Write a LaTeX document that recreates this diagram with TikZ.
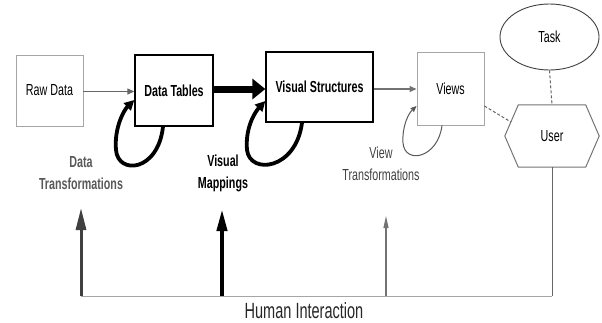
\documentclass[tikz,border=0pt]{standalone}
\usepackage{fontspec}
\setmainfont{Liberation Sans}[FakeStretch=0.67]
\newfontfamily\hifont{Liberation Sans}[FakeStretch=0.66]
\usetikzlibrary{arrows.meta,calc,shapes.geometric}

\begin{document}
\begin{tikzpicture}[x=1pt,y=-1pt,
  txt/.style={font=\fontsize{16}{18}\selectfont},
  lbox/.style={txt, draw=black!35, line width=0.9pt, inner sep=0pt},
  bbox/.style={draw=black, line width=1.3pt, inner sep=0pt, font=\fontsize{16}{18}\selectfont\bfseries},
  lab/.style={align=center, inner sep=0pt, font=\fontsize{16}{22}\selectfont},
  thinarrow/.style={draw=black!60, line width=1.1pt, -{Triangle[length=7pt,width=6pt]}},
  thickloop/.style={draw=black, line width=3.8pt, -{Triangle[length=10pt,width=10pt]}},
  thinloop/.style={draw=black!65, line width=1pt, -{Triangle[length=6pt,width=5pt]}},
  dashlink/.style={draw=black!60, line width=1pt, dash pattern=on 3pt off 2pt}
]
\useasboundingbox (0,0) rectangle (602,322);

% the four stages of the pipeline
\node[lbox, minimum width=67pt, minimum height=71pt] (raw) at (49.5,90.5) {Raw Data};
\node[bbox, minimum width=78pt, minimum height=71pt] (dt) at (174,90.5) {Data Tables};
\node[bbox, minimum width=107pt, minimum height=70pt] (vs) at (319.5,87) {Visual Structures};
\node[lbox, minimum width=67pt, minimum height=73pt] (views) at (450.5,88.5) {Views};

% task and user
\node[ellipse, draw=black!75, line width=0.9pt, minimum width=99pt, minimum height=66pt, txt] (task) at (549.5,37) {Task};
\node[txt, minimum width=94pt, minimum height=62pt, inner sep=0pt] (user) at (552,136) {User};
\coordinate (hw) at (user.west);
\coordinate (he) at (user.east);
\coordinate (hnw) at ([xshift=13.5pt]user.north west);
\coordinate (hne) at ([xshift=-13.5pt]user.north east);
\coordinate (hsw) at ([xshift=13.5pt]user.south west);
\coordinate (hse) at ([xshift=-13.5pt]user.south east);
\draw[black!55, line width=1pt] (hw) -- (hnw) -- (hne) -- (he) -- (hse) -- (hsw) -- cycle;

% forward arrows
\draw[thinarrow] ([yshift=-1pt]raw.east) -- ([yshift=-1pt]dt.west);
\draw[draw=black, line width=7pt, -{Triangle[length=13pt,width=20pt]}]
  ([yshift=1.5pt]dt.east) -- ([yshift=-2pt]vs.west);
\draw[thinarrow, draw=black!55] ([yshift=-2pt]vs.east) -- ([yshift=-0.5pt]views.west);

% transformation loops
\draw[thickloop] ([xshift=-11pt]dt.south) .. controls (158,172) and (118,175) .. (116,150)
  .. controls (114,128) and (124,110) .. ([yshift=-9.5pt]dt.west);
\draw[thickloop] ([xshift=-17.5pt]vs.south) .. controls (296,170) and (250,175) .. (247,150)
  .. controls (245,128) and (255,112) .. ([yshift=-14pt]vs.west);
\draw[thinloop] ([xshift=-8.5pt]views.south) .. controls (438,158) and (405,165) .. (403,143)
  .. controls (402,125) and (409,113) .. ([yshift=-17.5pt]views.west);

% loop labels
\node[lab, text=black!65, font=\fontsize{16}{22}\selectfont\bfseries] (dtlab) at (81,173) {Data\\Transformations};
\node[lab, font=\fontsize{16}{22}\selectfont\bfseries] (vmlab) at (223,173) {Visual\\Mappings};
\node[lab, text=black!75] (vtlab) at (381,164) {View\\Transformations};

% dashed links to the user
\draw[dashlink] (task.south) -- (user.north);
\draw[dashlink] ([yshift=-17.5pt]views.east) -- ($(hw)!0.45!(hnw)$);

% human interaction feedback
\coordinate (hb1) at (81,296);
\coordinate (hb2) at (222,296);
\coordinate (hb3) at (386,296);
\coordinate (ht1) at (81,208);
\coordinate (ht2) at (222,209);
\coordinate (ht3) at (386,216);
\coordinate (hcorner) at (user.south |- hb1);
\draw[black!60, line width=1pt] (user.south) -- (hcorner);
\draw[black!35, line width=1pt] (hcorner) -- (hb1);
\draw[draw=black!75, line width=3pt, -{Triangle[length=22pt,width=10pt]}] (hb1) -- (ht1);
\draw[draw=black, line width=4pt, -{Triangle[length=22pt,width=10pt]}] (hb2) -- (ht2);
\draw[draw=black!55, line width=1.1pt, -{Triangle[length=12pt,width=5pt]}] (hb3) -- (ht3);
\node[inner sep=0pt, font=\hifont\fontsize{22}{24}\selectfont, text=black!85] (hi) at (304,311) {Human Interaction};
\end{tikzpicture}
\end{document}
